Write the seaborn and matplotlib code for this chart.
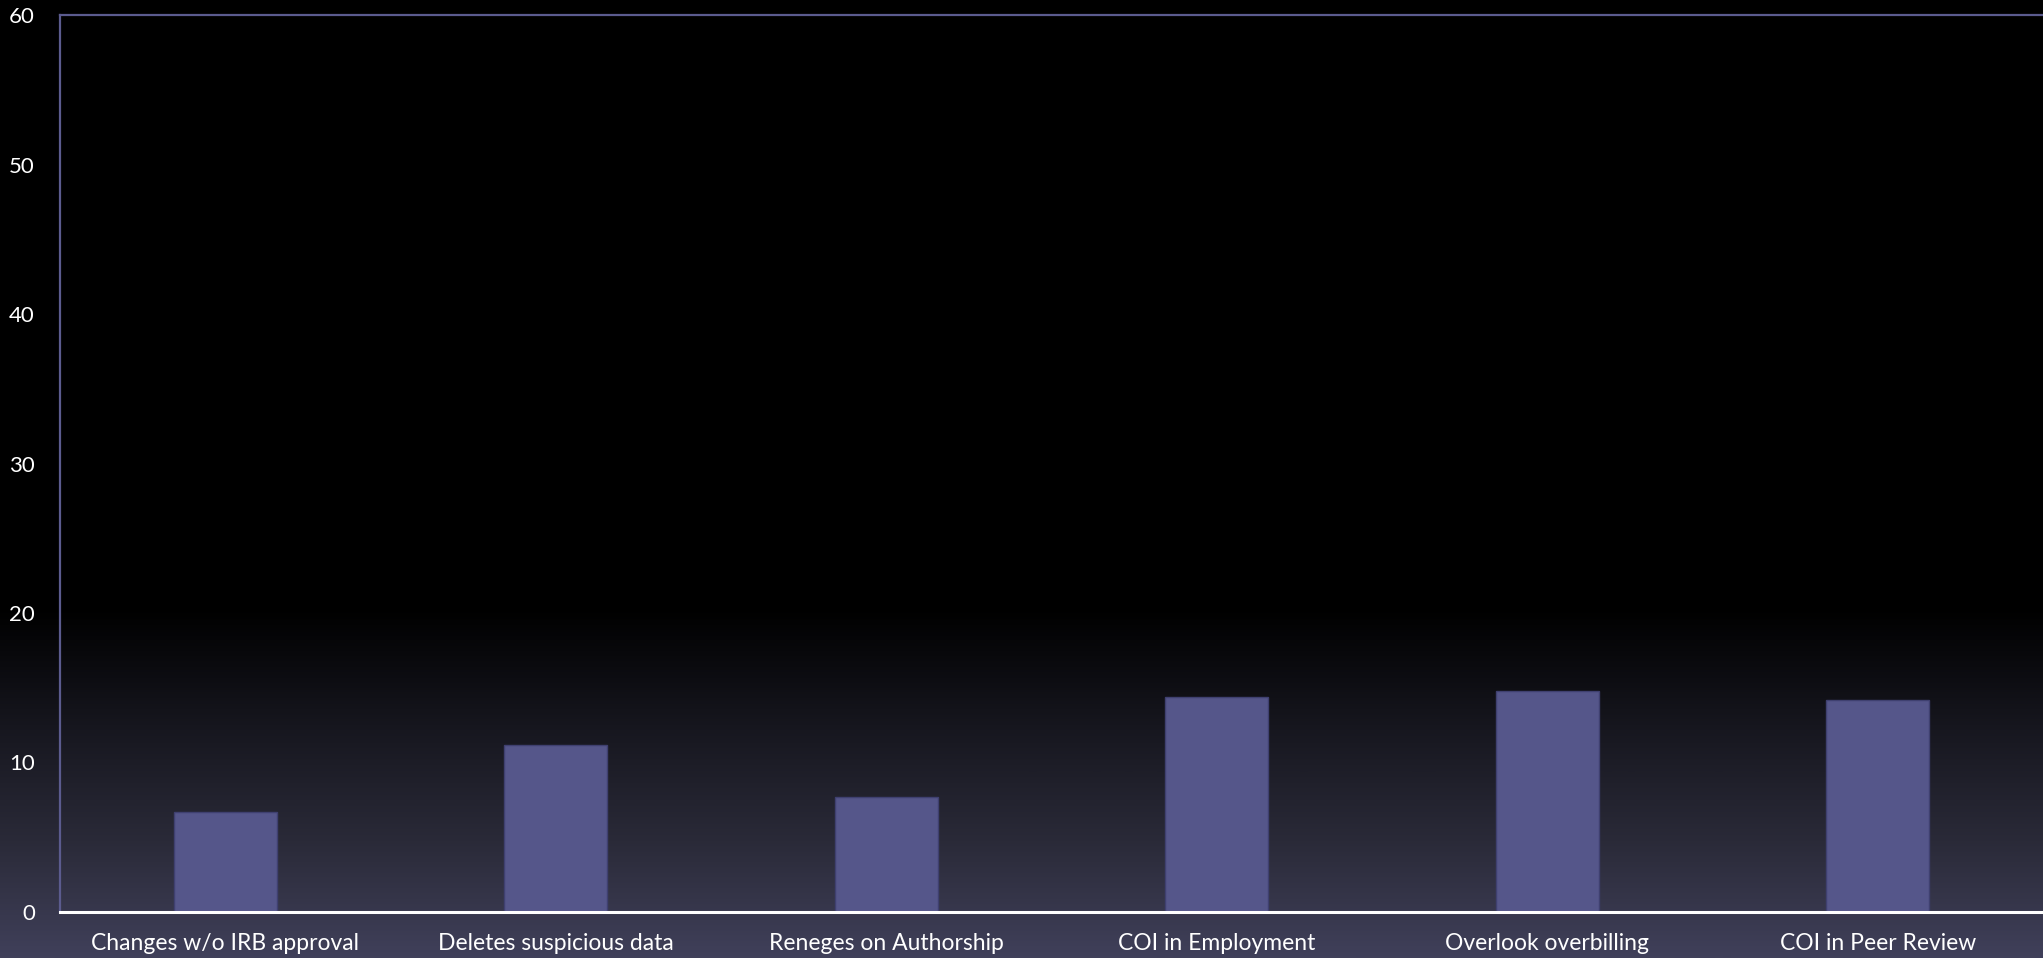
import numpy as np
import matplotlib
matplotlib.use("Agg")
import matplotlib.pyplot as plt
from matplotlib.colors import LinearSegmentedColormap
import seaborn as sns

categories = [
    "Changes w/o IRB approval",
    "Deletes suspicious data",
    "Reneges on Authorship",
    "COI in Employment",
    "Overlook overbilling",
    "COI in Peer Review",
]
values = [6.7, 11.2, 7.7, 14.4, 14.8, 14.2]
y_ticks = [0, 10, 20, 30, 40, 50, 60]

sns.set_theme(style="white")
plt.rcParams["font.family"] = ["Lato", "DejaVu Sans"]

W, H, DPI = 2043, 958, 100
fig = plt.figure(figsize=(W / DPI, H / DPI), dpi=DPI)
fig.patch.set_facecolor("black")

# vertical background gradient: black on top, slate-violet toward the bottom
bg = fig.add_axes([0, 0, 1, 1], zorder=0)
rows = np.linspace(0, 1, 800)          # 0 = top row, 1 = bottom row
start = 0.635
ramp = np.clip((rows - start) / (1 - start), 0, 1)
cmap = LinearSegmentedColormap.from_list(
    "bg", ["#000000", "#16161e", "#2a2a38", "#40405a"], N=256)
bg.imshow(ramp[:, None], aspect="auto", cmap=cmap, vmin=0, vmax=1,
          extent=[0, 1, 0, 1], origin="upper")
bg.set_axis_off()

left, top, bottom = 60, 15, 912
ax = fig.add_axes([left / W, (H - bottom) / H, (W - left) / W, (bottom - top) / H],
                  zorder=1)
ax.patch.set_alpha(0)

sns.barplot(x=categories, y=values, color="#55568a", saturation=1,
            width=0.313, edgecolor="#3f4070", linewidth=1.0, ax=ax)

ax.set_xlim(-0.5, len(categories) - 0.5)
ax.set_ylim(0, 60)
ax.set_yticks(y_ticks)
ax.set_yticklabels([str(t) for t in y_ticks])
ax.set_xlabel("")
ax.set_ylabel("")
ax.grid(False)

for side in ("left", "top"):
    ax.spines[side].set_color("#5b5b8e")
    ax.spines[side].set_linewidth(1.6)
ax.spines["right"].set_visible(False)
ax.spines["bottom"].set_color("white")
ax.spines["bottom"].set_linewidth(2.2)
ax.spines["bottom"].set_zorder(5)

ax.tick_params(axis="y", length=0, pad=18, colors="white", labelsize=16)
ax.tick_params(axis="x", length=0, pad=15, colors="white", labelsize=16.5)

fig.savefig("out.png", dpi=DPI, facecolor=fig.get_facecolor())
